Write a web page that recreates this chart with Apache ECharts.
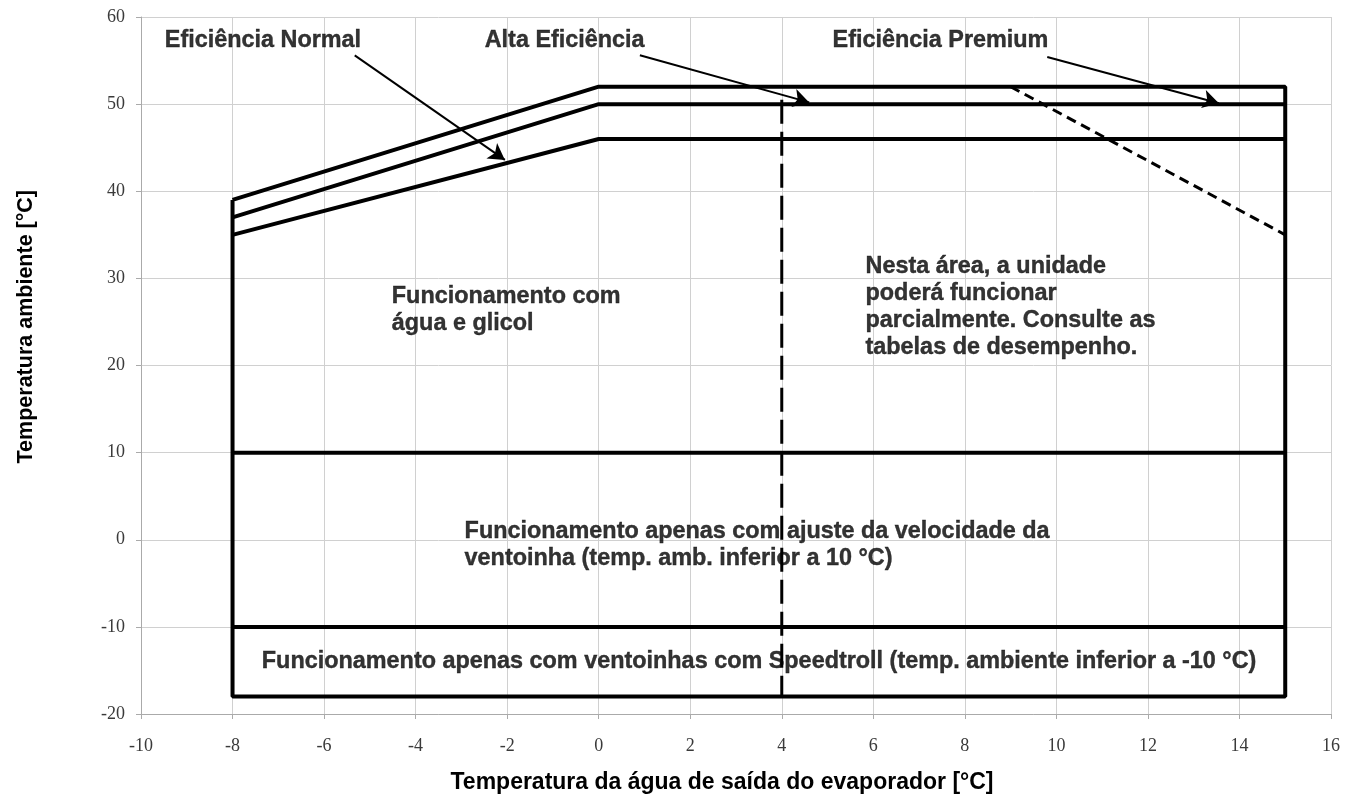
<!DOCTYPE html>
<html><head><meta charset="utf-8">
<script src="https://cdn.jsdelivr.net/npm/echarts@6/dist/echarts.min.js"></script>
<style>html,body{margin:0;padding:0;background:#fff}#c{width:1348px;height:799px}</style>
</head><body><div id="c"></div>
<script>
// Boundary lines (x = evaporator leaving water temp, y = ambient temp)
const topLine = [[-8, 39], [0, 52], [15, 52], [15, -18], [-8, -18], [-8, 39]];
const midLine = [[-8, 37], [0, 50], [15, 50]];
const lowLine = [[-8, 35], [0, 46], [15, 46]];
const line10 = [[-8, 10], [15, 10]];
const lineMinus10 = [[-8, -10], [15, -10]];
const dashVertical = [[4, 50.5], [4, -18]];
const dashPremium = [[9, 52], [15, 35]];
// Arrows [from, to]
const arrows = [
  [[-5.33, 55.6], [-2.05, 43.6]],
  [[0.9, 55.6], [4.6, 50.2]],
  [[9.8, 55.4], [13.55, 50.1]]
];
// Annotation texts [x, y, text]
const notes = [
  [-9.48, 57.3, 'Eficiência Normal'],
  [-2.49, 57.3, 'Alta Eficiência'],
  [5.11, 57.3, 'Eficiência Premium'],
  [-4.52, 26.4, 'Funcionamento com\nágua e glicol'],
  [5.83, 26.7, 'Nesta área, a unidade\npoderá funcionar\nparcialmente. Consulte as\ntabelas de desempenho.'],
  [-2.93, -0.57, 'Funcionamento apenas com ajuste da velocidade da\nventoinha (temp. amb. inferior a 10 °C)'],
  [-7.36, -13.98, 'Funcionamento apenas com ventoinhas com Speedtroll (temp. ambiente inferior a -10 °C)']
];
const xTitle = 'Temperatura da água de saída do evaporador [°C]';
const yTitle = 'Temperatura ambiente [°C]';

const chart = echarts.init(document.getElementById('c'));
const solid = (d) => ({type: 'line', data: d, symbol: 'none', lineStyle: {color: '#000', width: 4}, silent: true, z: 3});
chart.setOption({
  animation: false,
  grid: {left: 141, right: 17, top: 17, bottom: 84},
  graphic: [{
    type: 'text', left: 15, top: 190,
    rotation: Math.PI / 2, originX: 0, originY: 0,
    style: {text: yTitle, fontFamily: 'Liberation Sans', fontWeight: 'bold', fontSize: 21.5, fill: '#000'}
  }],
  xAxis: {
    type: 'value', min: -10, max: 16, interval: 2,
    name: xTitle, nameLocation: 'middle', nameGap: 57,
    nameTextStyle: {fontFamily: 'Liberation Sans', fontWeight: 'bold', fontSize: 23, color: '#000', padding: [0, 28, 0, 0]},
    axisLine: {show: true, onZero: false, lineStyle: {color: '#aaa'}},
    axisTick: {show: true, length: 5, lineStyle: {color: '#aaa'}},
    axisLabel: {fontFamily: 'Liberation Serif', fontSize: 18, color: '#3a3a3a', margin: 23},
    splitLine: {show: true, lineStyle: {color: '#d0d0d0', width: 1}}
  },
  yAxis: {
    type: 'value', min: -20, max: 60, interval: 10,
    axisLine: {show: true, onZero: false, lineStyle: {color: '#aaa'}},
    axisTick: {show: true, length: 5, lineStyle: {color: '#aaa'}},
    axisLabel: {fontFamily: 'Liberation Serif', fontSize: 18, color: '#3a3a3a', margin: 16},
    splitLine: {show: true, lineStyle: {color: '#d0d0d0', width: 1}}
  },
  series: [
    solid(topLine), solid(midLine), solid(lowLine), solid(line10), solid(lineMinus10),
    {type: 'line', data: dashVertical, symbol: 'none', silent: true, z: 3,
     lineStyle: {color: '#000', width: 3, type: [24, 8]}},
    {type: 'line', data: dashPremium, symbol: 'none', silent: true, z: 3,
     lineStyle: {color: '#000', width: 3, type: [10, 6]}},
    {type: 'scatter', data: [], silent: true,
     markLine: {
       silent: true, symbol: ['none', 'arrow'], symbolSize: [14, 16],
       label: {show: false},
       lineStyle: {color: '#000', width: 2, type: 'solid'},
       data: arrows.map(a => [{coord: a[0]}, {coord: a[1]}])
     }},
    {type: 'scatter', symbolSize: 0, silent: true, z: 5,
     data: notes.map(n => ({value: [n[0], n[1]], name: n[2]})),
     label: {show: true, position: [0, 0], align: 'left', verticalAlign: 'middle',
       formatter: p => p.name,
       fontFamily: 'Liberation Sans', fontWeight: 'bold', fontSize: 23.4, lineHeight: 27,
       color: '#000', textBorderColor: '#000', textBorderWidth: 0.4}}
  ]
});
</script></body></html>
